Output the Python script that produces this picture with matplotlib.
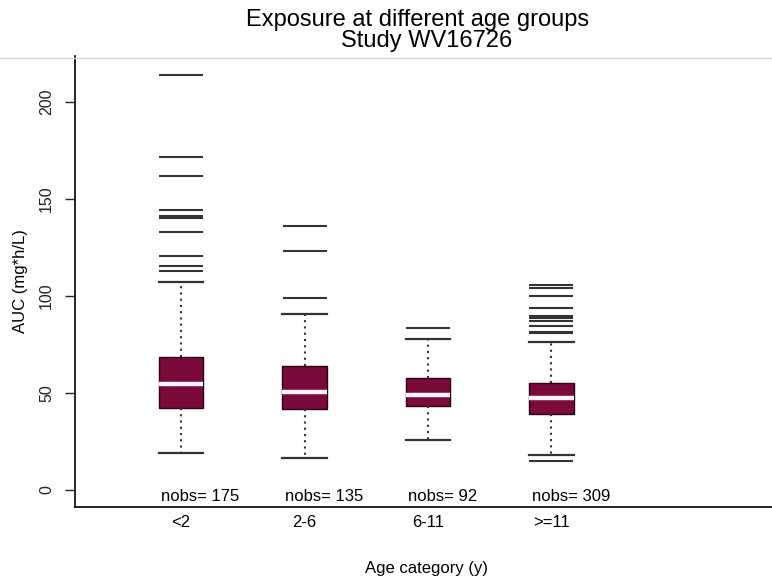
import numpy as np
import matplotlib
matplotlib.use("Agg")
import matplotlib.pyplot as plt
from matplotlib.lines import Line2D

plt.rcParams['font.family'] = ['Liberation Sans', 'DejaVu Sans']

# Data
groups = ['<2', '2-6', '6-11', '>=11']
nobs = [175, 135, 92, 309]
q1 = [42.4, 41.8, 43.3, 39.2]
med = [54.5, 50.7, 49.0, 47.6]
q3 = [68.7, 63.9, 57.6, 55.0]
whislo = [18.9, 16.3, 25.8, 18.0]
whishi = [107.4, 90.6, 77.7, 76.5]
outliers = [
    [214.0, 171.8, 161.7, 144.5, 141.2, 140.2, 133.0, 120.5, 115.5, 113.0],
    [136.3, 123.2, 99.1],
    [83.7],
    [105.7, 104.3, 100.0, 94.0, 89.7, 88.5, 87.3, 84.5, 81.6, 81.1, 15.1],
]
yticks = [0, 50, 100, 150, 200]

# Build stats for bxp
stats = []
for i in range(len(groups)):
    stats.append(dict(label=groups[i], q1=q1[i], med=med[i], q3=q3[i],
                      whislo=whislo[i], whishi=whishi[i], fliers=outliers[i]))

fig = plt.figure(figsize=(7.72, 5.8), dpi=100)
ax = fig.add_axes([0.0972, 0.1259, 0.911, 0.7776])

pos = np.arange(1, len(groups) + 1)
boxcol = '#7a0a3c'
ax.bxp(stats, positions=pos, widths=0.36, patch_artist=True,
       boxprops=dict(facecolor=boxcol, edgecolor='#2a0010', linewidth=1.0),
       medianprops=dict(color='#fff4fa', linewidth=3.2),
       whiskerprops=dict(color='#333333', linestyle=(0, (1, 2)), linewidth=1.5),
       capprops=dict(color='#333333', linewidth=1.6),
       flierprops=dict(marker='_', markersize=31.5, markeredgewidth=1.5,
                       markeredgecolor='#333333', linestyle='none'),
       capwidths=0.36)

ax.set_xlim(0.14, 5.84)
ax.set_ylim(-8.8, 223.7)

ax.spines['right'].set_visible(False)
ax.spines['top'].set_visible(False)
ax.spines['left'].set_linewidth(1.2)
ax.spines['bottom'].set_linewidth(1.2)

ax.set_yticks(yticks)
ax.set_yticklabels([str(v) for v in yticks], rotation=90, va='center', fontsize=11.5)
ax.tick_params(axis='y', length=7, width=1, pad=8, colors='#222222')
ax.set_xticks(pos)
ax.set_xticklabels(groups, fontsize=12)
ax.tick_params(axis='x', length=0, pad=6)

for i in range(len(groups)):
    ax.text(pos[i] - 0.16, -3.6, 'nobs= %d' % nobs[i], ha='left', va='center', fontsize=12)

ax.set_xlabel('Age category (y)', fontsize=12, labelpad=22)
ax.set_ylabel('AUC (mg*h/L)', fontsize=12, labelpad=8)

fig.text(0.541, 0.965, 'Exposure at different age groups', ha='center', va='center', fontsize=17)
fig.text(0.553, 0.930, 'Study WV16726', ha='center', va='center', fontsize=17)

# faint frame line at the top of the plot region
fig.add_artist(Line2D([0, 1], [1 - 58 / 580, 1 - 58 / 580], color='#d6d6d6', linewidth=1.0))

fig.savefig('out.png', dpi=100)
